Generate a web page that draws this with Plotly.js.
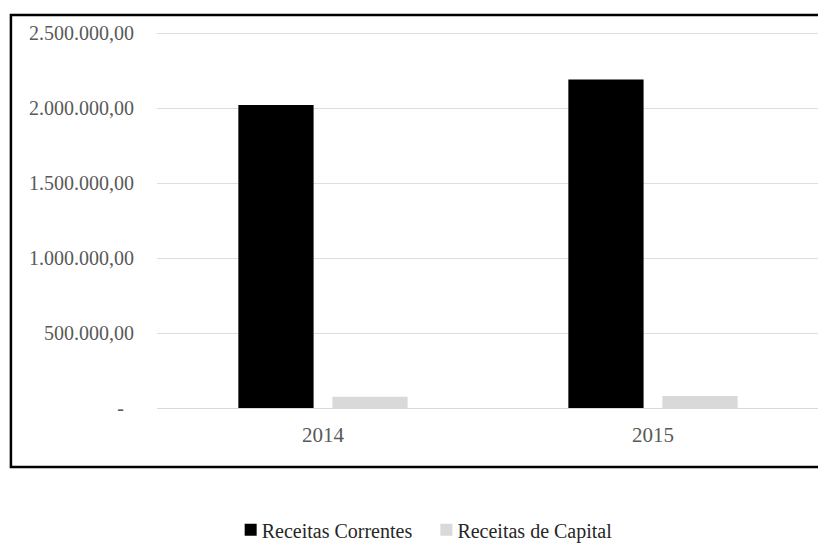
<!DOCTYPE html>
<html>
<head>
<meta charset="utf-8">
<script src="https://cdn.plot.ly/plotly-3.0.1.min.js"></script>
<style>html,body{margin:0;padding:0;background:#fff;}#chart{width:818px;height:544px;}</style>
</head>
<body>
<div id="chart"></div>
<script>
const years = ["2014", "2015"];
const receitasCorrentes = [2020000, 2190000];
const receitasCapital = [75000, 80000];
const yTickVals = [0, 500000, 1000000, 1500000, 2000000, 2500000];
const yTickText = ["-\u00a0\u00a0", "500.000,00", "1.000.000,00", "1.500.000,00", "2.000.000,00", "2.500.000,00"];

const serif = "Liberation Serif, Times New Roman, serif";

const traces = [
  {type: "bar", name: "Receitas Correntes", x: years, y: receitasCorrentes,
   marker: {color: "#000000"}, hoverinfo: "skip"},
  {type: "bar", name: "Receitas de Capital", x: years, y: receitasCapital,
   marker: {color: "#d9d9d9"}, hoverinfo: "skip"}
];

const layout = {
  width: 818, height: 544,
  margin: {l: 157, r: 0, t: 30, b: 136, autoexpand: false},
  paper_bgcolor: "#ffffff", plot_bgcolor: "#ffffff",
  barmode: "group", bargap: 0.43, bargroupgap: 0.2,
  showlegend: true,
  legend: {orientation: "h", x: 0.411, xanchor: "center", y: -0.322, yanchor: "middle",
           font: {family: serif, size: 20, color: "#262626"}, itemwidth: 30, traceorder: "normal"},
  xaxis: {type: "category", range: [-0.503, 1.5], showgrid: false, zeroline: false,
          showline: false, ticks: "", ticklabelstandoff: 12,
          tickfont: {family: serif, size: 21, color: "#595959"}, fixedrange: true},
  yaxis: {range: [0, 2520000], tickvals: yTickVals, ticktext: yTickText,
          showgrid: true, gridcolor: "#dedede", gridwidth: 1, zeroline: true,
          zerolinecolor: "#d9d9d9", zerolinewidth: 1, showline: false, ticks: "",
          ticklabelstandoff: 22,
          tickfont: {family: serif, size: 20, color: "#595959"}, fixedrange: true},
  shapes: [{type: "rect", xref: "paper", yref: "paper",
            x0: -0.221, x1: 1.02, y0: -0.156, y1: 1.0397,
            line: {color: "#000000", width: 2.5}, fillcolor: "rgba(0,0,0,0)", layer: "above"}]
};

Plotly.newPlot("chart", traces, layout, {displayModeBar: false, staticPlot: true}).then(function () {
  document.querySelectorAll("#chart .legendtext").forEach(function (t) {
    t.setAttribute("x", "31");
  });
});
</script>
</body>
</html>
